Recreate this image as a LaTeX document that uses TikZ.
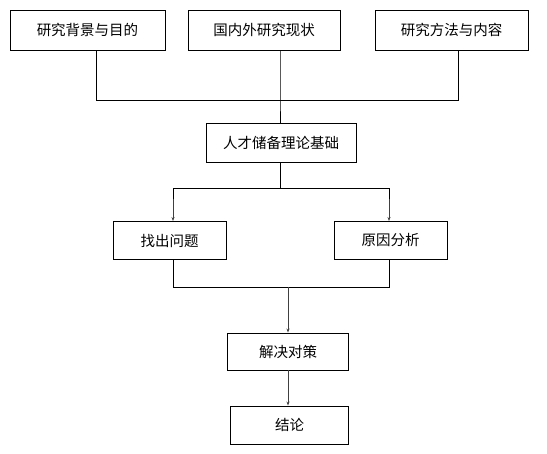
\documentclass[tikz,border=0pt]{standalone}
\usepackage{fontspec}
\newfontfamily\cjk{Noto Sans CJK SC}
\usetikzlibrary{arrows.meta}
\begin{document}
\begin{tikzpicture}[x=1pt,y=-1pt,
  box/.style={draw=black,line width=0.9pt,rectangle,minimum height=38pt,inner sep=0pt,font=\cjk\fontsize{14.5}{15}\selectfont},
  link/.style={draw=black,line width=0.9pt},
  arr/.style={draw=black!75,line width=0.9pt,-{Stealth[length=4pt,width=3pt]}}]
\useasboundingbox (0,0) rectangle (547,454);
\node[box,minimum width=155pt,minimum height=40pt] (a) at (87.5,30) {研究背景与目的};
\node[box,minimum width=152pt,minimum height=40pt] (b) at (264,30) {国内外研究现状};
\node[box,minimum width=153pt,minimum height=40pt] (c) at (451.5,30) {研究方法与内容};
\node[box,minimum width=150pt,minimum height=39pt] (d) at (281,142.5) {人才储备理论基础};
\node[box,minimum width=113pt] (e) at (169.5,240.5) {找出问题};
\node[box,minimum width=113pt] (f) at (390.5,240.5) {原因分析};
\node[box,minimum width=121pt,minimum height=37pt] (g) at (288,351.5) {解决对策};
\node[box,minimum width=118pt,minimum height=38pt] (h) at (289.5,425) {结论};
\coordinate (j1) at (280,100);
\coordinate (j2) at (280,188);
\coordinate (j3) at (288,287);
\draw[link] (a.south -| 96,0) |- (j1);
\draw[link] (c.south -| 458,0) |- (j1);
\draw[link] (b.south -| 280,0) -- (j1) -- (d.north -| 280,0);
\draw[link] (d.south -| 280,0) -- (j2);
\draw[link] (j2) -| (173,200);
\draw[link] (j2) -| (389,200);
\draw[arr] (173,199) -- (e.north -| 173,0);
\draw[arr] (389,199) -- (f.north -| 389,0);
\draw[link] (e.south -| 173,0) |- (j3);
\draw[link] (f.south -| 389,0) |- (j3);
\draw[arr] (j3) -- (g.north -| 288,0);
\draw[arr] (g.south -| 288,0) -- (h.north -| 288,0);
\end{tikzpicture}
\end{document}
